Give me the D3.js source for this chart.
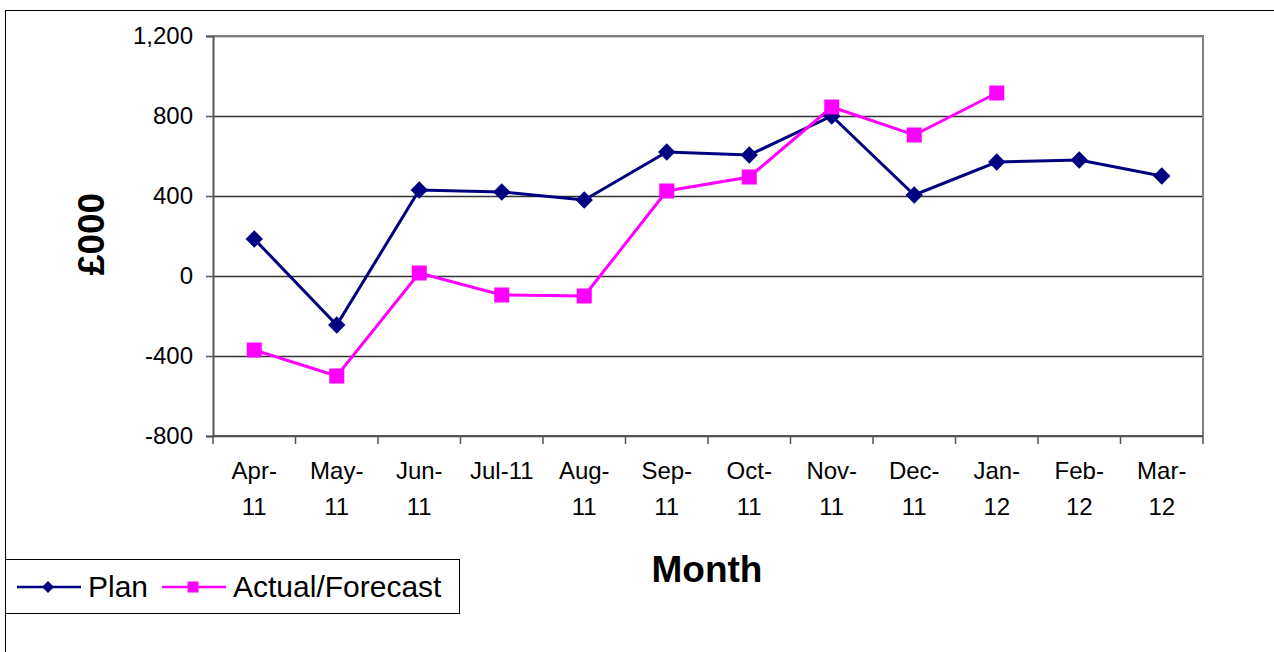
<!DOCTYPE html>
<html>
<head>
<meta charset="utf-8">
<script src="https://cdn.jsdelivr.net/npm/d3@7"></script>
<style>
  body { margin: 0; background: #fff; }
  svg { display: block; font-family: "Liberation Sans", Arial, sans-serif; }
</style>
</head>
<body>
<div class="box"></div>
<script>
// data (£000)
const months = ["Apr-11", "May-11", "Jun-11", "Jul-11", "Aug-11", "Sep-11",
                "Oct-11", "Nov-11", "Dec-11", "Jan-12", "Feb-12", "Mar-12"];
// how the tick labels wrap in the original
const monthLines = [["Apr-", "11"], ["May-", "11"], ["Jun-", "11"], ["Jul-11"], ["Aug-", "11"], ["Sep-", "11"],
                    ["Oct-", "11"], ["Nov-", "11"], ["Dec-", "11"], ["Jan-", "12"], ["Feb-", "12"], ["Mar-", "12"]];
const plan = [185, -245, 430, 420, 380, 620, 605, 800, 405, 570, 580, 500];
const actual = [-370, -500, 15, -95, -100, 425, 495, 845, 705, 915];
const yTicks = [-800, -400, 0, 400, 800, 1200];

const w = 1274;
const h = 652;
const plotLeft = 213, plotRight = 1203, plotTop = 36, plotBottom = 436;

const svg = d3.select(".box")
              .append("svg")
              .attr("width", w)
              .attr("height", h);

// outer chart border (runs past the window at right/bottom)
svg.append("rect")
   .attr("x", 5.5).attr("y", 10.5)
   .attr("width", 1400).attr("height", 800)
   .attr("fill", "none")
   .attr("stroke", "#000")
   .attr("stroke-width", 1);

const xScale = d3.scaleBand()
                 .domain(months)
                 .range([plotLeft, plotRight]);

const yScale = d3.scaleLinear()
                 .domain([-800, 1200])
                 .range([plotBottom, plotTop]);

// gridlines
svg.append("g")
   .selectAll("line")
   .data(yTicks)
   .enter()
   .append("line")
   .attr("x1", plotLeft).attr("x2", plotRight)
   .attr("y1", d => Math.round(yScale(d)) + 0.5)
   .attr("y2", d => Math.round(yScale(d)) + 0.5)
   .attr("stroke", "#333")
   .attr("stroke-width", 1.3);

// plot area border top/right (grey)
svg.append("path")
   .attr("d", `M${plotLeft},${plotTop}H${plotRight}V${plotBottom}`)
   .attr("fill", "none")
   .attr("stroke", "#808080")
   .attr("stroke-width", 2);

// Y AXIS - plain hyphen for negatives, like the original
const fmt = d3.format(",");
const yAxis = d3.axisLeft(yScale)
                .tickValues(yTicks)
                .tickFormat(d => fmt(d).replace("\u2212", "-"))
                .tickSize(7)
                .tickPadding(13);

const gy = svg.append("g")
              .attr("transform", "translate(" + plotLeft + ",0)")
              .call(yAxis);
gy.select(".domain").attr("stroke", "#555").attr("stroke-width", 2);
gy.selectAll(".tick line").attr("stroke", "#555").attr("stroke-width", 1.5);
gy.selectAll(".tick text")
  .attr("font-size", "24px")
  .attr("fill", "#000")
  .attr("font-family", "Liberation Sans, Arial, sans-serif");

// X AXIS (ticks between categories)
const gx = svg.append("g");
gx.append("line")
  .attr("x1", plotLeft).attr("x2", plotRight)
  .attr("y1", plotBottom).attr("y2", plotBottom)
  .attr("stroke", "#555")
  .attr("stroke-width", 2);
gx.selectAll(".xtick")
  .data(months.concat(["end"]))
  .enter()
  .append("line")
  .attr("class", "xtick")
  .attr("x1", (d, i) => i < months.length ? xScale(d) : plotRight)
  .attr("x2", (d, i) => i < months.length ? xScale(d) : plotRight)
  .attr("y1", plotBottom).attr("y2", plotBottom + 8)
  .attr("stroke", "#555")
  .attr("stroke-width", 1.5);

const labels = gx.selectAll(".xlabel")
  .data(months)
  .enter()
  .append("text")
  .attr("class", "xlabel")
  .attr("text-anchor", "middle")
  .attr("font-size", "24px")
  .attr("fill", "#000");
labels.each(function(d, i) {
    const t = d3.select(this);
    monthLines[i].forEach((line, j) => {
        t.append("tspan")
         .attr("x", xScale(d) + xScale.bandwidth() / 2)
         .attr("y", 479 + j * 36)
         .text(line);
    });
});

// AXIS TITLES
svg.append("text")
   .attr("transform", "translate(104,234) rotate(-90)")
   .attr("text-anchor", "middle")
   .attr("font-size", "37px")
   .attr("font-weight", "bold")
   .text("£000");

svg.append("text")
   .attr("x", 707)
   .attr("y", 582)
   .attr("text-anchor", "middle")
   .attr("font-size", "37px")
   .attr("font-weight", "bold")
   .text("Month");

// LINES
const cx = (d, i) => xScale(months[i]) + xScale.bandwidth() / 2;
const line = d3.line().x(cx).y(d => yScale(d));

svg.append("path")
   .datum(plan)
   .attr("d", line)
   .attr("fill", "none")
   .attr("stroke", "#000080")
   .attr("stroke-width", 3);

svg.append("path")
   .datum(actual)
   .attr("d", line)
   .attr("fill", "none")
   .attr("stroke", "#ff00ff")
   .attr("stroke-width", 3);

const diamond = d3.symbol().type(d3.symbolSquare).size(150);

svg.selectAll(".plan-pt")
   .data(plan)
   .enter()
   .append("path")
   .attr("class", "plan-pt")
   .attr("d", diamond)
   .attr("transform", (d, i) => "translate(" + cx(d, i) + "," + yScale(d) + ") rotate(45)")
   .attr("fill", "#000080");

svg.selectAll(".act-pt")
   .data(actual)
   .enter()
   .append("rect")
   .attr("class", "act-pt")
   .attr("x", (d, i) => cx(d, i) - 7.5)
   .attr("y", d => yScale(d) - 7.5)
   .attr("width", 15)
   .attr("height", 15)
   .attr("fill", "#ff00ff");

// LEGEND
const legend = svg.append("g").attr("id", "legend");
legend.append("rect")
      .attr("x", 5.5).attr("y", 559.5)
      .attr("width", 454).attr("height", 54)
      .attr("fill", "#fff")
      .attr("stroke", "#000")
      .attr("stroke-width", 1);

const legendItems = [
    { name: "Plan", color: "#000080", x0: 17, text: 88, shape: "diamond" },
    { name: "Actual/Forecast", color: "#ff00ff", x0: 162, text: 233, shape: "square" }
];
const ly = 587;
legendItems.forEach(item => {
    legend.append("line")
          .attr("x1", item.x0).attr("x2", item.x0 + 64)
          .attr("y1", ly).attr("y2", ly)
          .attr("stroke", item.color)
          .attr("stroke-width", 2.5);
    if (item.shape === "diamond") {
        legend.append("path")
              .attr("d", d3.symbol().type(d3.symbolSquare).size(72))
              .attr("transform", "translate(" + (item.x0 + 31) + "," + ly + ") rotate(45)")
              .attr("fill", item.color);
    } else {
        legend.append("rect")
              .attr("x", item.x0 + 31 - 5.5).attr("y", ly - 5.5)
              .attr("width", 11).attr("height", 11)
              .attr("fill", item.color);
    }
    legend.append("text")
          .attr("x", item.text)
          .attr("y", ly + 10)
          .attr("font-size", "30px")
          .text(item.name);
});
</script>
</body>
</html>
